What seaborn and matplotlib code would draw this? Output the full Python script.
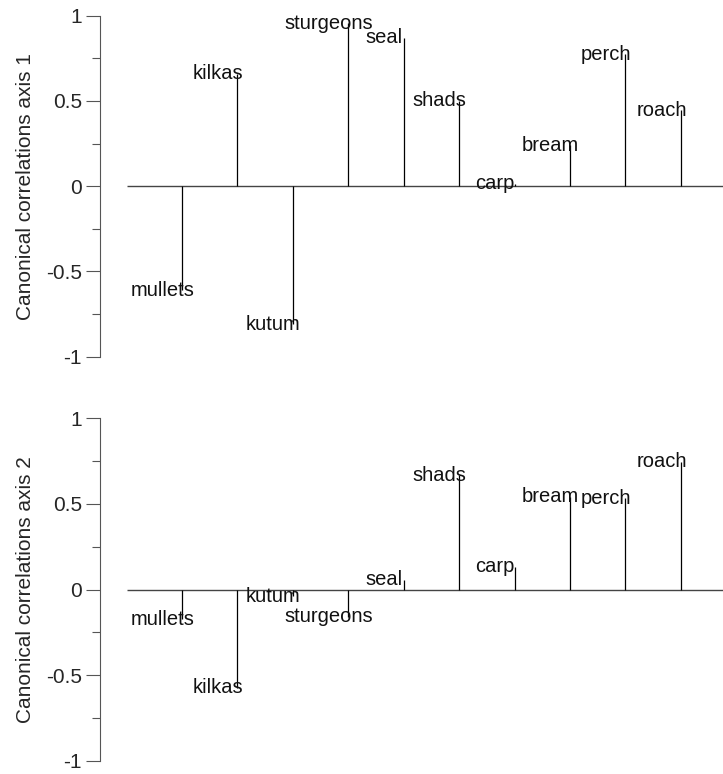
import numpy as np
import matplotlib
matplotlib.use("Agg")
import matplotlib.pyplot as plt
import seaborn as sns

# species, in plotting order
species = ['mullets', 'kilkas', 'kutum', 'sturgeons', 'seal',
           'shads', 'carp', 'bream', 'perch', 'roach']

# canonical correlations
axis1 = [-0.61, 0.66, -0.81, 0.955, 0.87, 0.50, 0.015, 0.24, 0.775, 0.445]
axis2 = [-0.175, -0.575, -0.04, -0.16, 0.057, 0.668, 0.133, 0.543, 0.534, 0.747]

ytick_vals = [-1, -0.5, 0, 0.5, 1]
ytick_labels = ['-1', '-0.5', '0', '0.5', '1']

sns.set_style("ticks")
plt.rcParams['font.family'] = ['Liberation Sans', 'DejaVu Sans']
plt.rcParams['font.size'] = 15

fig = plt.figure(figsize=(7.23, 7.74), dpi=100)
W, H = 723, 774

# axes boxes in pixels: top (y=1) and bottom (y=-1)
panels = [
    (axis1, 'Canonical correlations axis 1', 15.7, 356.7),
    (axis2, 'Canonical correlations axis 2', 418.3, 760.7),
]

x = np.arange(1, len(species) + 1)
x_left, x_right = -0.48, 10.76

for values, ylab, top, bottom in panels:
    ax = fig.add_axes([100 / W, 1 - bottom / H, 623 / W, (bottom - top) / H])
    ax.set_xlim(x_left, x_right)
    ax.set_ylim(-1, 1)

    # zero line + stems
    ax.hlines(0, 0, x_right, color='#444444', lw=1.0)
    ax.vlines(x, 0, values, color='black', lw=0.9)

    # names sit just left of each stem tip
    for xi, name, v in zip(x, species, values):
        ax.text(xi - 0.35, v, name, ha='center', va='center',
                fontsize=14.5, color='#111111')

    ax.set_yticks(ytick_vals)
    ax.set_yticklabels(ytick_labels)
    ax.set_yticks([-0.75, -0.25, 0.25, 0.75], minor=True)
    ax.tick_params(axis='y', which='major', length=10, width=0.8,
                   color='#555555', pad=3, labelsize=15)
    ax.tick_params(axis='y', which='minor', length=6, width=0.8,
                   color='#555555')
    ax.set_xticks([])

    sns.despine(ax=ax, bottom=True)
    ax.spines['left'].set_color('#555555')
    ax.spines['left'].set_linewidth(0.8)
    ax.spines['left'].set_bounds(-1, 1)

    ax.set_ylabel(ylab, fontsize=15)
    ax.yaxis.set_label_coords(-0.105, 0.5)

fig.savefig('out.png', dpi=100)
